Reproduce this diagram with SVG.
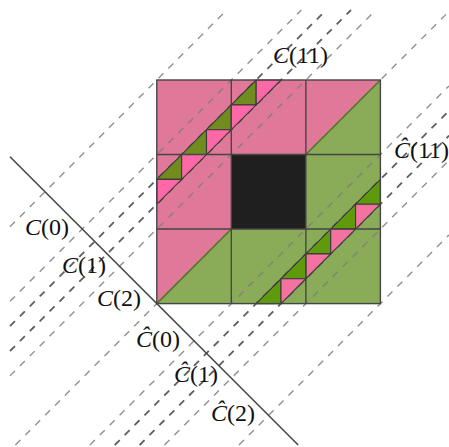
<svg xmlns="http://www.w3.org/2000/svg" width="449" height="447" viewBox="0 0 449 447">
<style>
.pink{fill:#e0789a}
.green{fill:#8aab58}
.hole{fill:#1f1f1f}
.tlp{fill:#ff68a6;stroke:#3a3a3a;stroke-width:1.1;stroke-linejoin:round}
.tlg{fill:#708c1e;stroke:#3a3a3a;stroke-width:1.1;stroke-linejoin:round}
.brp{fill:#f3729f;stroke:#3a3a3a;stroke-width:1.1;stroke-linejoin:round}
.brg{fill:#5f9a0c;stroke:#3a3a3a;stroke-width:1.1;stroke-linejoin:round}
.grid{fill:none;stroke:#454545;stroke-width:1.4}
.diag{stroke:#4e7a22;stroke-width:1.5}
.dl{stroke:#7c7c7c;stroke-opacity:0.85;stroke-width:1.4;stroke-dasharray:7 7;fill:none}
.dd{stroke:#4c4c4c;stroke-opacity:0.9;stroke-width:1.8;stroke-dasharray:7 7;fill:none}
.axis{stroke:#474747;stroke-width:1.6}
text{font-family:"Liberation Serif","DejaVu Serif",serif;font-size:24px;fill:#111}
.it{font-style:italic}
</style>

<g id="square-fills">
  <polygon class="pink" points="156.8,80 380.4,80 156.8,303.6"/>
  <polygon class="green" points="380.4,80 380.4,303.6 156.8,303.6"/>
</g>

<g id="connectors">
  <line class="dl" x1="10" y1="226.8" x2="226.8" y2="10"/>
  <line class="dl" x1="10" y1="301.33" x2="301.33" y2="10"/>
  <line class="dd" x1="10" y1="326.17" x2="326.17" y2="10"/>
  <line class="dd" x1="10" y1="351.01" x2="351.01" y2="10"/>
  <line class="dl" x1="10" y1="375.87" x2="375.87" y2="10"/>
  <line class="dl" x1="15.4" y1="445" x2="449" y2="11.4"/>
  <line class="dl" x1="89.93" y1="445" x2="449" y2="85.93"/>
  <line class="dd" x1="114.77" y1="445" x2="449" y2="110.77"/>
  <line class="dd" x1="139.61" y1="445" x2="449" y2="135.61"/>
  <line class="dl" x1="164.47" y1="445" x2="449" y2="160.47"/>
  <line class="dl" x1="239" y1="445" x2="449" y2="235"/>
  <line id="perpendicular" class="axis" x1="10" y1="156.8" x2="298.2" y2="445"/>
</g>

<g id="center-hole">
  <rect class="hole" x="231.33" y="154.53" width="74.54" height="74.54"/>
</g>

<g id="staircase-C11">
  <polygon class="tlg" points="156.8,179.38 181.64,154.53 181.64,179.38"/>
  <polygon class="tlg" points="181.64,154.53 206.49,129.69 206.49,154.53"/>
  <polygon class="tlg" points="206.49,129.69 231.33,104.84 231.33,129.69"/>
  <polygon class="tlg" points="231.33,104.84 256.18,80 256.18,104.84"/>
  <polygon class="tlp" points="156.8,179.38 181.64,179.38 156.8,204.22"/>
  <polygon class="tlp" points="181.64,154.53 206.49,154.53 181.64,179.38"/>
  <polygon class="tlp" points="206.49,129.69 231.33,129.69 206.49,154.53"/>
  <polygon class="tlp" points="231.33,104.84 256.18,104.84 231.33,129.69"/>
  <polygon class="tlp" points="256.18,80 281.02,80 256.18,104.84"/>
</g>

<g id="staircase-C11-hat">
  <polygon class="brg" points="355.56,204.22 380.4,179.38 380.4,204.22"/>
  <polygon class="brg" points="330.71,229.07 355.56,204.22 355.56,229.07"/>
  <polygon class="brg" points="305.87,253.91 330.71,229.07 330.71,253.91"/>
  <polygon class="brg" points="281.02,278.76 305.87,253.91 305.87,278.76"/>
  <polygon class="brg" points="256.18,303.6 281.02,278.76 281.02,303.6"/>
  <polygon class="brp" points="355.56,204.22 380.4,204.22 355.56,229.07"/>
  <polygon class="brp" points="330.71,229.07 355.56,229.07 330.71,253.91"/>
  <polygon class="brp" points="305.87,253.91 330.71,253.91 305.87,278.76"/>
  <polygon class="brp" points="281.02,278.76 305.87,278.76 281.02,303.6"/>
</g>

<g id="grid">
  <line class="diag" x1="305.87" y1="154.53" x2="380.4" y2="80"/>
  <line class="diag" x1="156.8" y1="303.6" x2="231.33" y2="229.07"/>
  <line class="grid" x1="231.33" y1="80" x2="231.33" y2="303.6"/>
  <line class="grid" x1="305.87" y1="80" x2="305.87" y2="303.6"/>
  <line class="grid" x1="156.8" y1="154.53" x2="380.4" y2="154.53"/>
  <line class="grid" x1="156.8" y1="229.07" x2="380.4" y2="229.07"/>
  <rect class="grid" x="156.8" y="80" width="223.6" height="223.6"/>
</g>

<g id="labels">
  <text x="25" y="235"><tspan class="it">C</tspan>(0)</text>
  <text x="62" y="273"><tspan class="it">C</tspan>(1)</text>
  <text x="97" y="306"><tspan class="it">C</tspan>(2)</text>
  <text x="136" y="346.5"><tspan class="it">Ĉ</tspan>(0)</text>
  <text x="174" y="382"><tspan class="it">Ĉ</tspan>(1)</text>
  <text x="211" y="420.5"><tspan class="it">Ĉ</tspan>(2)</text>
  <text x="273" y="63"><tspan class="it">C</tspan>(11)</text>
  <text x="394" y="158"><tspan class="it">Ĉ</tspan>(11)</text>
</g>
</svg>
